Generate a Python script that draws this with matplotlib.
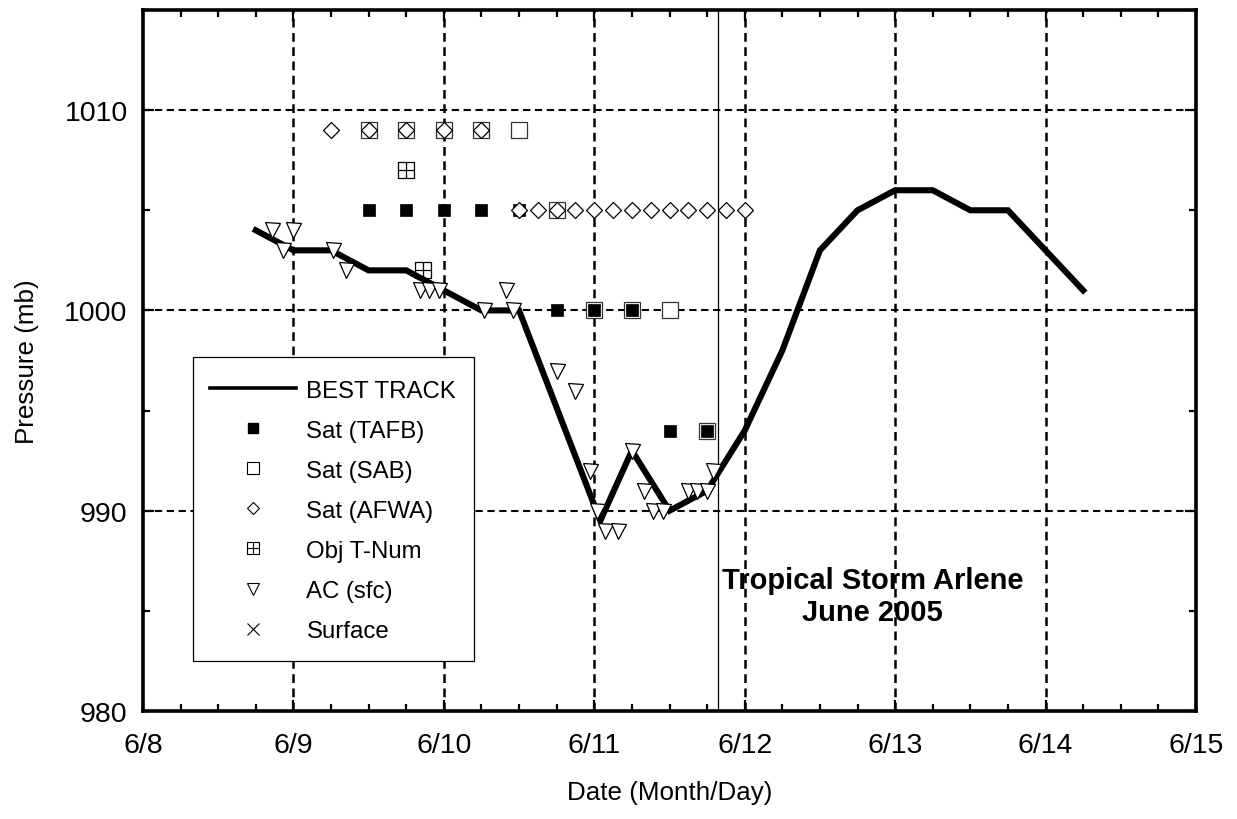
import matplotlib
matplotlib.use("Agg")
import matplotlib.pyplot as plt
from matplotlib.path import Path
from matplotlib.lines import Line2D
from matplotlib.patches import Rectangle
import numpy as np

plt.rcParams['font.family'] = ['Liberation Sans', 'DejaVu Sans']

# x values: days since 6/8 00 UTC
bt_x = [0.75, 1.0, 1.25, 1.5, 1.75, 2.0, 2.25, 2.5, 3.04, 3.25, 3.5, 3.75, 4.0, 4.25, 4.5, 4.75, 5.0, 5.25, 5.5, 5.75, 6.0, 6.25]
bt_p = [1004, 1003, 1003, 1002, 1002, 1001, 1000, 1000, 989.5, 993, 990, 991, 994, 998, 1003, 1005, 1006, 1006, 1005, 1005, 1003, 1001]

tafb_x = [1.5, 1.75, 2.0, 2.25, 2.5, 2.75, 3.0, 3.25, 3.5, 3.75]
tafb_p = [1005, 1005, 1005, 1005, 1005, 1000, 1000, 1000, 994, 994]

sab_x = [1.5, 1.75, 2.0, 2.25, 2.5, 2.75, 3.0, 3.25, 3.5, 3.75]
sab_p = [1009, 1009, 1009, 1009, 1009, 1005, 1000, 1000, 1000, 994]

afwa_x = [1.25, 1.5, 1.75, 2.0, 2.25, 2.5, 2.625, 2.75, 2.875, 3.0, 3.125, 3.25, 3.375, 3.5, 3.625, 3.75, 3.875, 4.0]
afwa_p = [1009, 1009, 1009, 1009, 1009, 1005, 1005, 1005, 1005, 1005, 1005, 1005, 1005, 1005, 1005, 1005, 1005, 1005]

objt_x = [1.75, 1.86]
objt_p = [1007, 1002]

ac_x = [0.86, 0.93, 1.0, 1.26, 1.35, 1.84, 1.9, 1.97, 2.27, 2.41, 2.46, 2.75, 2.87, 2.97, 3.02, 3.07, 3.16, 3.25, 3.33, 3.39, 3.46, 3.62, 3.68, 3.75, 3.79]
ac_p = [1004, 1003, 1004, 1003, 1002, 1001, 1001, 1001, 1000, 1001, 1000, 997, 996, 992, 990, 989, 989, 993, 991, 990, 990, 991, 991, 991, 992]

landfall_x = 3.82

xtick_labels = ['6/8', '6/9', '6/10', '6/11', '6/12', '6/13', '6/14', '6/15']
ytick_vals = [980, 990, 1000, 1010]

# box with cross marker
boxplus = Path(
    [(-1, -1), (1, -1), (1, 1), (-1, 1), (-1, -1), (0, -1), (0, 1), (-1, 0), (1, 0)],
    [Path.MOVETO, Path.LINETO, Path.LINETO, Path.LINETO, Path.CLOSEPOLY,
     Path.MOVETO, Path.LINETO, Path.MOVETO, Path.LINETO])

fig = plt.figure(figsize=(12.37, 8.2), dpi=100)
ax = fig.add_axes([143/1237, 1-712/820, (1196-143)/1237, (712-11)/820])

ax.set_xlim(0, 7)
ax.set_ylim(980, 1015)

# grid
for i in range(1, 7):
    ax.axvline(i, color='black', lw=1.8, ls=(0, (3.5, 2.2)), zorder=1)
for v in [990, 1000, 1010]:
    ax.axhline(v, color='black', lw=1.5, ls=(0, (3.5, 2.2)), zorder=1)
ax.axvline(landfall_x, color='black', lw=0.9, zorder=1)

ax.plot(bt_x, bt_p, color='black', lw=4.4, zorder=2, solid_joinstyle='miter')
ax.plot(sab_x, sab_p, ls='none', marker='s', ms=11, mfc='white', mec='#333333', mew=0.9, zorder=3)
ax.plot(tafb_x, tafb_p, ls='none', marker='s', ms=8.6, mfc='black', mec='black', mew=0.5, zorder=4)
ax.plot(afwa_x, afwa_p, ls='none', marker='D', ms=8.3, mfc='white', mec='black', mew=0.9, zorder=5)
ax.plot(objt_x, objt_p, ls='none', marker=boxplus, ms=11, mfc='none', mec='black', mew=0.9, zorder=5)
ax.plot(ac_x, ac_p, ls='none', marker='v', ms=10.8, mfc='white', mec='black', mew=0.9, zorder=6)

ax.text(4.85, 985.72, 'Tropical Storm Arlene\nJune 2005', ha='center', va='center',
        fontsize=21, fontweight='bold', linespacing=1.18, zorder=7)

ax.set_xticks(range(8))
ax.set_xticklabels(xtick_labels)
ax.set_xticks(np.arange(0, 7.01, 0.25), minor=True)
ax.set_yticks(ytick_vals)
ax.set_yticks([985, 995, 1005, 1015], minor=True)
ax.tick_params(which='both', direction='in', top=True, right=True, width=1.6, labelsize=20.5)
ax.tick_params(which='major', length=8)
ax.tick_params(which='minor', length=5)
ax.tick_params(axis='x', which='major', pad=15)
ax.tick_params(axis='y', which='major', pad=11)
for s in ax.spines.values():
    s.set_linewidth(2.6)

ax.set_xlabel('Date (Month/Day)', fontsize=18.7, labelpad=16)
ax.set_ylabel('Pressure (mb)', fontsize=18.7, labelpad=18)

# legend frame drawn separately
ax.add_patch(Rectangle((0.0475, 0.0713), 0.2668, 0.4337, transform=ax.transAxes,
                       facecolor='white', edgecolor='black', lw=0.9, zorder=8))

handles = [
    Line2D([], [], color='black', lw=2.6),
    Line2D([], [], ls='none', marker='s', ms=7.5, mfc='black', mec='black'),
    Line2D([], [], ls='none', marker='s', ms=9, mfc='white', mec='black', mew=0.8),
    Line2D([], [], ls='none', marker='D', ms=6.5, mfc='white', mec='black', mew=0.8),
    Line2D([], [], ls='none', marker=boxplus, ms=9, mfc='none', mec='black', mew=0.8),
    Line2D([], [], ls='none', marker='v', ms=9, mfc='white', mec='black', mew=0.8),
    Line2D([], [], ls='none', marker='x', ms=9, mec='black', mew=0.8),
]
labels = ['BEST TRACK', 'Sat (TAFB)', 'Sat (SAB)', 'Sat (AFWA)', 'Obj T-Num', 'AC (sfc)', 'Surface']
leg = ax.legend(handles, labels, loc='upper left', bbox_to_anchor=(0.0418, 0.505),
                fontsize=17.3, frameon=False, handlelength=3.6, handletextpad=0.42,
                labelspacing=0.75, borderpad=0.95, borderaxespad=0)
leg.set_zorder(9)

fig.savefig('out.png', dpi=100)
